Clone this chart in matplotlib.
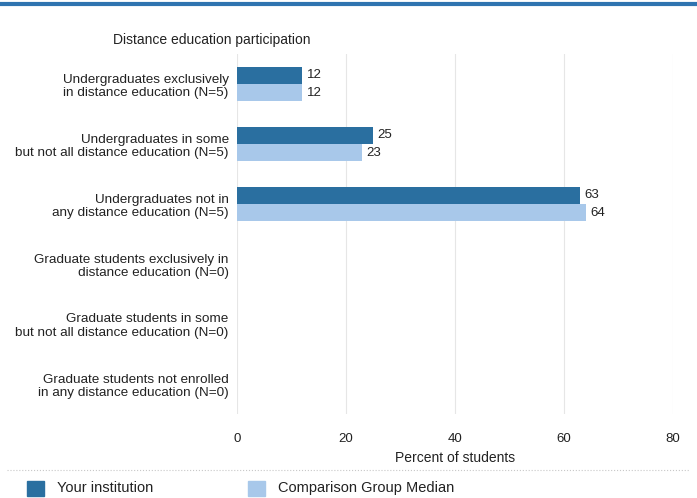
import matplotlib.pyplot as plt
import numpy as np

plt.rcParams['font.family'] = ['Liberation Sans', 'DejaVu Sans']

categories = [
    'Undergraduates exclusively\nin distance education (N=5)',
    'Undergraduates in some\nbut not all distance education (N=5)',
    'Undergraduates not in\nany distance education (N=5)',
    'Graduate students exclusively in\ndistance education (N=0)',
    'Graduate students in some\nbut not all distance education (N=0)',
    'Graduate students not enrolled\nin any distance education (N=0)',
]
your_institution = [12, 25, 63, None, None, None]
comparison_median = [12, 23, 64, None, None, None]
x_ticks = [0, 20, 40, 60, 80]

dark = '#2a6fa0'
light = '#a8c8ea'
text_color = '#222222'

fig = plt.figure(figsize=(6.97, 4.98), dpi=100)

# blue rule along the top of the page
fig.add_artist(plt.Line2D([0, 1], [0.992, 0.992], color='#2f74b0', lw=3,
                          transform=fig.transFigure))
fig.text(113 / 697, 1 - 40 / 498, 'Distance education participation',
         fontsize=10, color=text_color, va='center', ha='left')

ax = fig.add_axes([237 / 697, 84 / 498, 436 / 697, 360 / 498])

y = np.arange(len(categories))
h = 0.285
for i, (a, b) in enumerate(zip(your_institution, comparison_median)):
    if a is not None:
        ax.barh(y[i] - h / 2, a, height=h, color=dark, zorder=3)
        ax.text(a + 0.8, y[i] - h / 2, str(a), va='center', ha='left',
                fontsize=9.5, color=text_color)
    if b is not None:
        ax.barh(y[i] + h / 2, b, height=h, color=light, zorder=3)
        ax.text(b + 0.8, y[i] + h / 2, str(b), va='center', ha='left',
                fontsize=9.5, color=text_color)

ax.set_xlim(0, 80)
ax.set_ylim(len(categories) - 0.5, -0.5)
ax.set_xticks(x_ticks)
ax.set_yticks(y)
ax.set_yticklabels(categories, fontsize=9.7, color=text_color, ha='right',
                   multialignment='right')
ax.tick_params(axis='y', length=0, pad=6)
ax.tick_params(axis='x', length=0, pad=14, labelsize=9.5, labelcolor=text_color)
ax.xaxis.grid(True, color='#e6e6e6', lw=0.8, zorder=0)
for s in ax.spines.values():
    s.set_visible(False)
ax.set_xlabel('Percent of students', fontsize=10, color=text_color, labelpad=4)

# dotted separator above legend
fig.add_artist(plt.Line2D([0.01, 0.99], [1 - 470 / 498, 1 - 470 / 498],
                          color='#c8c8c8', lw=0.8, ls=':',
                          transform=fig.transFigure))

# legend
ly = 1 - 488 / 498
for x0, col, label in [(27, dark, 'Your institution'),
                       (248, light, 'Comparison Group Median')]:
    fig.add_artist(plt.Rectangle((x0 / 697, ly - 8 / 498), 17 / 697, 15 / 498,
                                 color=col, transform=fig.transFigure))
    fig.text((x0 + 30) / 697, ly, label, fontsize=10.5, color=text_color,
             va='center', ha='left')

fig.savefig('out.png', dpi=100)
